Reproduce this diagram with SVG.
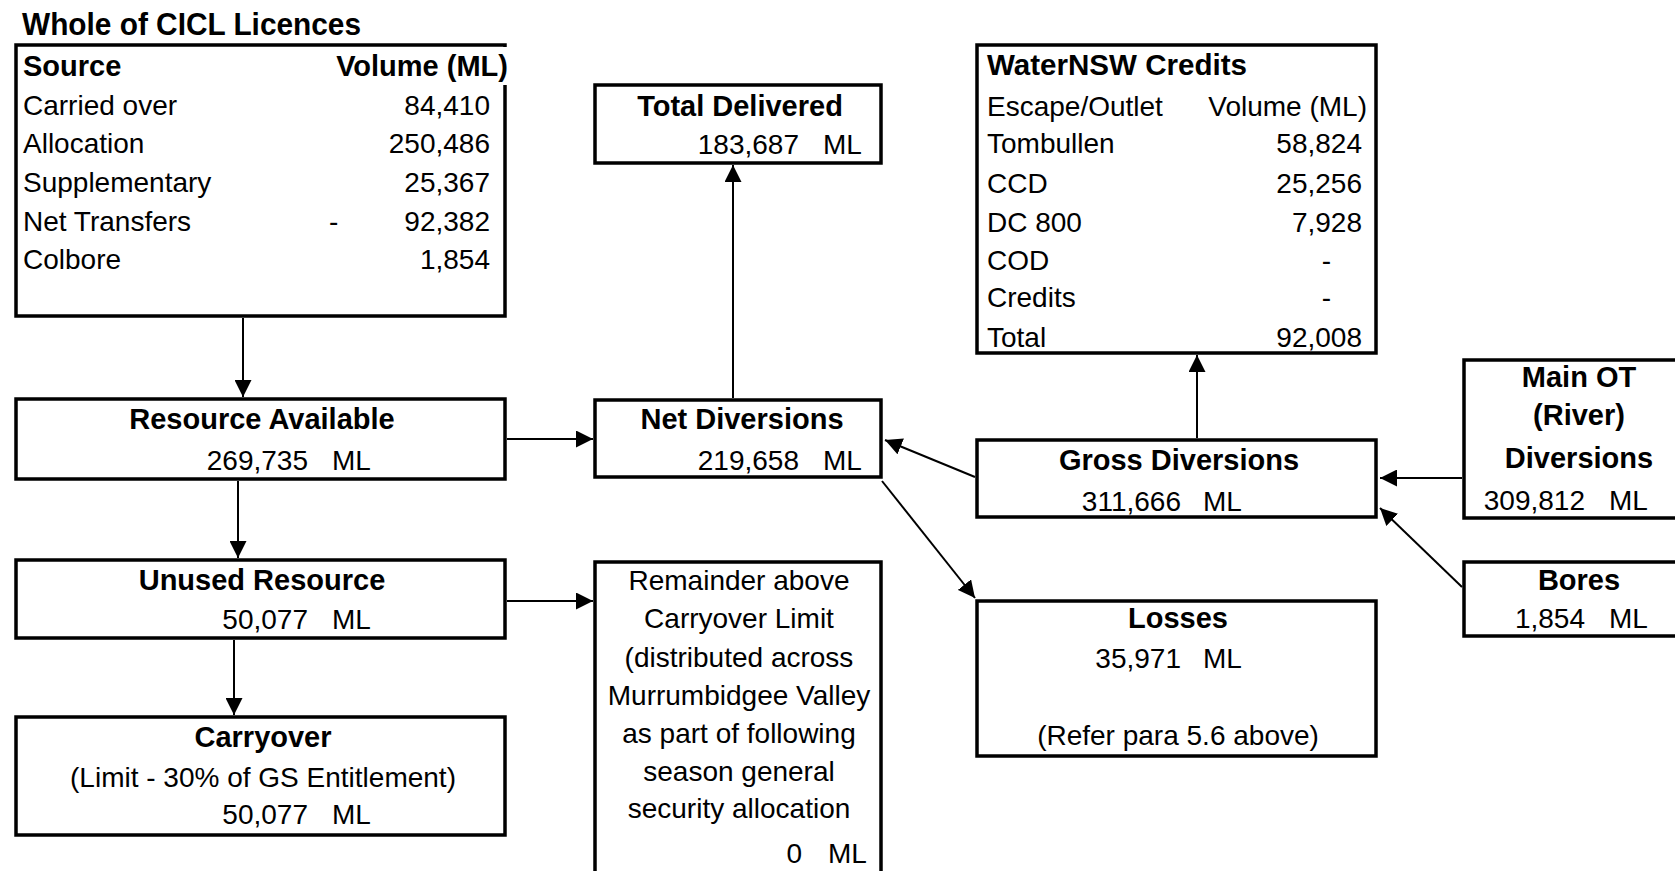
<svg xmlns="http://www.w3.org/2000/svg" width="1675" height="871" viewBox="0 0 1675 871">
<style>
.bx{fill:#fff;stroke:#000;stroke-width:3.5}
.t{font-family:"Liberation Sans",Arial,sans-serif;font-size:28px;fill:#000}
.b{font-family:"Liberation Sans",Arial,sans-serif;font-size:29px;font-weight:bold;fill:#000}
.c{text-anchor:middle}
.e{text-anchor:end}
.cn{stroke:#000;stroke-width:2;fill:none;marker-end:url(#ah)}
</style>
<defs>
<marker id="ah" markerUnits="userSpaceOnUse" markerWidth="17" markerHeight="17" refX="17" refY="8.5" orient="auto">
<path d="M0,0 L17,8.5 L0,17 z" fill="#000"/>
</marker>
</defs>
<rect width="1675" height="871" fill="#fff"/>
<g id="connectors">
<line class="cn" x1="243" y1="318" x2="243" y2="397"/>
<line class="cn" x1="238" y1="481" x2="238" y2="558"/>
<line class="cn" x1="234" y1="640" x2="234" y2="715"/>
<line class="cn" x1="507" y1="439" x2="593" y2="439"/>
<line class="cn" x1="507" y1="601" x2="593" y2="601"/>
<line class="cn" x1="733" y1="398" x2="733" y2="165"/>
<line class="cn" x1="975" y1="477" x2="885" y2="440"/>
<line class="cn" x1="882" y1="481" x2="975" y2="598"/>
<line class="cn" x1="1197" y1="438" x2="1197" y2="355"/>
<line class="cn" x1="1462" y1="478" x2="1380" y2="478"/>
<line class="cn" x1="1462" y1="587" x2="1380" y2="508"/>
</g>
<g id="cicl">
<text class="b" x="22" y="35" style="font-size:31px" textLength="339" lengthAdjust="spacingAndGlyphs">Whole of CICL Licences</text>
<rect class="bx" x="16" y="45" width="489" height="271"/>
<rect x="503" y="47" width="7" height="38" fill="#fff"/>
<text class="b" x="23" y="76">Source</text>
<text class="b e" x="508" y="76">Volume (ML)</text>
<text class="t" x="23" y="115">Carried over</text>
<text class="t" x="23" y="153">Allocation</text>
<text class="t" x="23" y="192">Supplementary</text>
<text class="t" x="23" y="231">Net Transfers</text>
<text class="t" x="23" y="269">Colbore</text>
<text class="t e" x="490" y="115">84,410</text>
<text class="t e" x="490" y="153">250,486</text>
<text class="t e" x="490" y="192">25,367</text>
<text class="t" x="329" y="231">-</text>
<text class="t e" x="490" y="231">92,382</text>
<text class="t e" x="490" y="269">1,854</text>
</g>
<g id="resource-available">
<rect class="bx" x="16" y="399" width="489" height="80"/>
<text class="b c" x="262" y="429">Resource Available</text>
<text class="t e" x="308" y="470">269,735</text>
<text class="t" x="332" y="470">ML</text>
</g>
<g id="unused-resource">
<rect class="bx" x="16" y="560" width="489" height="78"/>
<text class="b c" x="262" y="590">Unused Resource</text>
<text class="t e" x="308" y="629">50,077</text>
<text class="t" x="332" y="629">ML</text>
</g>
<g id="carryover">
<rect class="bx" x="16" y="717" width="489" height="118"/>
<text class="b c" x="263" y="747">Carryover</text>
<text class="t c" x="263" y="787">(Limit - 30% of GS Entitlement)</text>
<text class="t e" x="308" y="824">50,077</text>
<text class="t" x="332" y="824">ML</text>
</g>
<g id="total-delivered">
<rect class="bx" x="595" y="85" width="286" height="78"/>
<text class="b c" x="740" y="116">Total Delivered</text>
<text class="t e" x="799" y="154">183,687</text>
<text class="t" x="823" y="154">ML</text>
</g>
<g id="net-diversions">
<rect class="bx" x="595" y="400" width="286" height="77"/>
<text class="b c" x="742" y="429">Net Diversions</text>
<text class="t e" x="799" y="470">219,658</text>
<text class="t" x="823" y="470">ML</text>
</g>
<g id="remainder">
<rect class="bx" x="595" y="562" width="286" height="330"/>
<text class="t c" x="739" y="590">Remainder above</text>
<text class="t c" x="739" y="628">Carryover Limit</text>
<text class="t c" x="739" y="667">(distributed across</text>
<text class="t c" x="739" y="705">Murrumbidgee Valley</text>
<text class="t c" x="739" y="743">as part of following</text>
<text class="t c" x="739" y="781">season general</text>
<text class="t c" x="739" y="818">security allocation</text>
<text class="t e" x="802" y="863">0</text>
<text class="t" x="828" y="863">ML</text>
</g>
<g id="waternsw-credits">
<rect class="bx" x="977" y="45" width="399" height="308"/>
<text class="b" x="987" y="75" textLength="260" lengthAdjust="spacingAndGlyphs">WaterNSW Credits</text>
<text class="t" x="987" y="116">Escape/Outlet</text>
<text class="t e" x="1367" y="116">Volume (ML)</text>
<text class="t" x="987" y="153">Tombullen</text>
<text class="t" x="987" y="193">CCD</text>
<text class="t" x="987" y="232">DC 800</text>
<text class="t" x="987" y="270">COD</text>
<text class="t" x="987" y="307">Credits</text>
<text class="t" x="987" y="347">Total</text>
<text class="t e" x="1362" y="153">58,824</text>
<text class="t e" x="1362" y="193">25,256</text>
<text class="t e" x="1362" y="232">7,928</text>
<text class="t e" x="1331" y="270">-</text>
<text class="t e" x="1331" y="307">-</text>
<text class="t e" x="1362" y="347">92,008</text>
</g>
<g id="gross-diversions">
<rect class="bx" x="977" y="440" width="399" height="77"/>
<text class="b c" x="1179" y="470">Gross Diversions</text>
<text class="t e" x="1181" y="511">311,666</text>
<text class="t" x="1203" y="511">ML</text>
</g>
<g id="losses">
<rect class="bx" x="977" y="601" width="399" height="155"/>
<text class="b c" x="1178" y="628">Losses</text>
<text class="t e" x="1181" y="668">35,971</text>
<text class="t" x="1203" y="668">ML</text>
<text class="t c" x="1178" y="745">(Refer para 5.6 above)</text>
</g>
<g id="main-ot">
<rect class="bx" x="1464" y="360" width="260" height="158"/>
<text class="b c" x="1579" y="387">Main OT</text>
<text class="b c" x="1579" y="425">(River)</text>
<text class="b c" x="1579" y="468">Diversions</text>
<text class="t e" x="1585" y="510">309,812</text>
<text class="t" x="1609" y="510">ML</text>
</g>
<g id="bores">
<rect class="bx" x="1464" y="562" width="260" height="74"/>
<text class="b c" x="1579" y="590">Bores</text>
<text class="t e" x="1585" y="628">1,854</text>
<text class="t" x="1609" y="628">ML</text>
</g>
</svg>
